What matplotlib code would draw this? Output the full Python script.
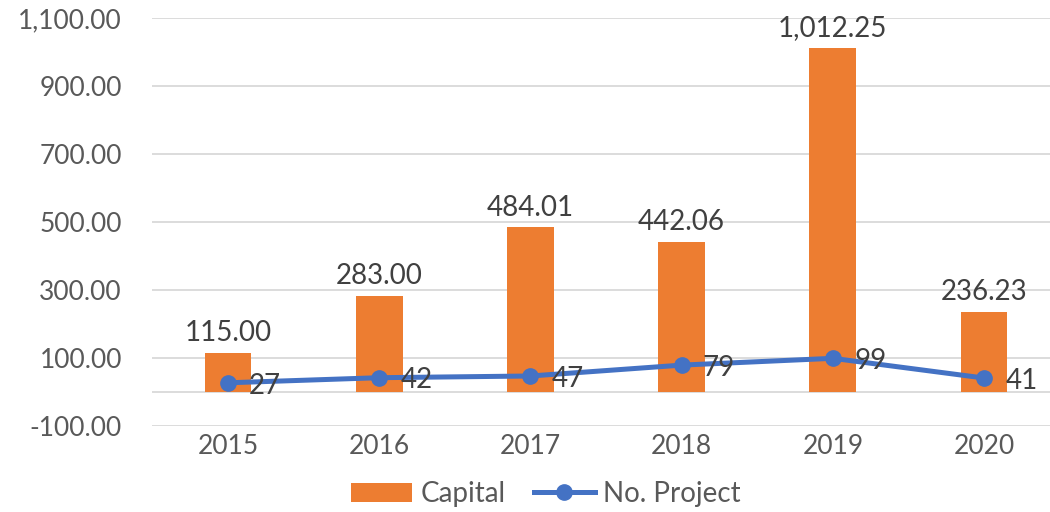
import matplotlib
matplotlib.use("Agg")
import matplotlib.pyplot as plt
from matplotlib.ticker import FuncFormatter

# data
years = ["2015", "2016", "2017", "2018", "2019", "2020"]
capital = [115.00, 283.00, 484.01, 442.06, 1012.25, 236.23]
projects = [27, 42, 47, 79, 99, 41]

orange = "#ED7D31"
blue = "#4472C4"
txt = "#404040"
tick_col = "#595959"

plt.rcParams['font.family'] = ['Lato', 'DejaVu Sans']

fig = plt.figure(figsize=(10.5, 5.12), dpi=100)
ax = fig.add_axes([0.1452, 0.168, 0.864, 0.797])

x = list(range(len(years)))
bars = ax.bar(x, capital, width=0.31, color=orange, zorder=2, label="Capital")
line, = ax.plot(x, projects, color=blue, lw=3.6, marker="o", markersize=11,
                zorder=3, label="No. Project")

# labels on bars
for xi, v in zip(x, capital):
    ax.text(xi, v + 20, "{:,.2f}".format(v), ha="center", va="bottom",
            fontsize=20, color=txt)
# labels next to line points
for xi, v in zip(x, projects):
    ax.text(xi + 0.14, v - 8, str(v), ha="left", va="center",
            fontsize=20, color=txt, zorder=4)

ax.set_ylim(-100, 1100)
ax.set_yticks(range(-100, 1101, 200))
ax.yaxis.set_major_formatter(FuncFormatter(lambda v, p: "{:,.2f}".format(v)))
ax.set_xlim(-0.5, 5.5)
ax.set_xticks(x)
ax.set_xticklabels(years)

ax.grid(axis="y", color="#D9D9D9", lw=1.3, zorder=0)
ax.axhline(0, color="#D9D9D9", lw=1.3, zorder=1)
for s in ax.spines.values():
    s.set_visible(False)
ax.tick_params(axis="both", length=0, labelsize=19, colors=tick_col)
ax.tick_params(axis="y", pad=22)
ax.tick_params(axis="x", pad=6)

fig.legend(handles=[bars, line], loc="center", bbox_to_anchor=(0.52, 0.035),
           ncol=2, frameon=False, fontsize=20, labelcolor=tick_col,
           handlelength=2.2, columnspacing=1.0, handletextpad=0.3)

fig.savefig("out.png", dpi=100)
